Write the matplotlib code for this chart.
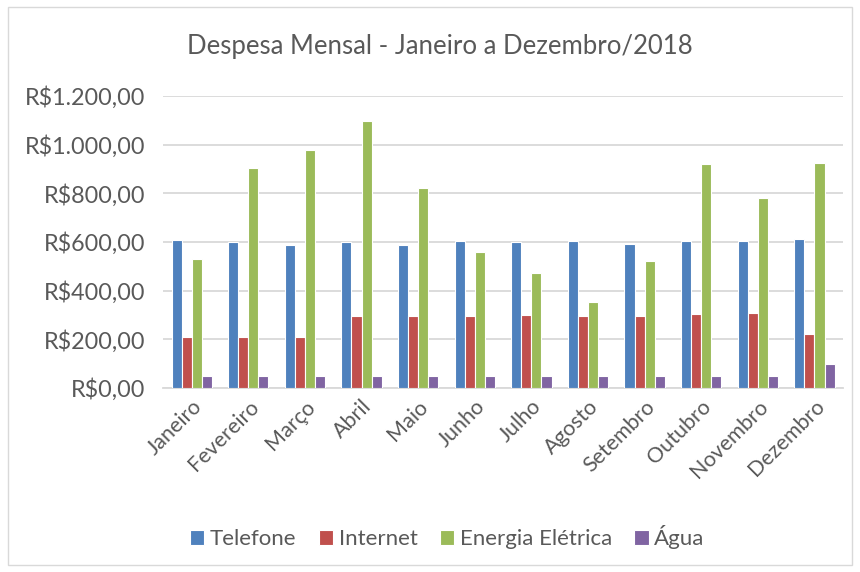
import matplotlib
matplotlib.use("Agg")
import matplotlib.pyplot as plt
import numpy as np

months = ["Janeiro", "Fevereiro", "Março", "Abril", "Maio", "Junho", "Julho",
          "Agosto", "Setembro", "Outubro", "Novembro", "Dezembro"]
telefone = [608, 598, 588, 598, 586, 604, 600, 604, 591, 606, 602, 612]
internet = [210, 210, 210, 294, 294, 294, 298, 294, 294, 302, 307, 221]
energia = [532, 902, 979, 1097, 822, 558, 474, 355, 520, 921, 781, 923]
agua = [50, 50, 50, 50, 50, 50, 50, 50, 50, 50, 50, 100]
series_names = ["Telefone", "Internet", "Energia Elétrica", "Água"]
colors = ["#4F81BD", "#C0504D", "#9BBB59", "#8064A2"]
yticks = [0, 200, 400, 600, 800, 1000, 1200]
ytick_labels = ["R\\$0,00", "R\\$200,00", "R\\$400,00", "R\\$600,00",
                "R\\$800,00", "R\\$1.000,00", "R\\$1.200,00"]

plt.rcParams['font.family'] = ['Lato', 'DejaVu Sans']
txt = "#595959"

fig = plt.figure(figsize=(8.6, 5.72), dpi=100)
# outer border
fig.patches.append(plt.Rectangle((0.009, 0.012), 0.982, 0.976, transform=fig.transFigure,
                                 fill=False, edgecolor="#d9d9d9", linewidth=1))
ax = fig.add_axes([0.19, 0.3217, 0.79, 0.5105])

x = np.arange(len(months))
step = 0.178
data = [telefone, internet, energia, agua]
for i, (vals, name, c) in enumerate(zip(data, series_names, colors)):
    ax.bar(x + (i - 1.5) * step, vals, width=step, color=c, edgecolor="white",
           linewidth=0.8, label=name, zorder=3)

ax.set_xlim(-0.5, len(months) - 0.5)
ax.set_ylim(0, 1200)
ax.set_yticks(yticks)
ax.set_yticklabels(ytick_labels, fontsize=16.8, color=txt)
ax.set_xticks(x)
ax.set_xticklabels(months, rotation=45, ha="right", rotation_mode="anchor",
                   fontsize=15.5, color=txt)
ax.tick_params(axis="both", length=0)
ax.tick_params(axis="y", pad=13)
ax.tick_params(axis="x", pad=6)
ax.grid(axis="y", color="#d9d9d9", linewidth=1.3, zorder=0)
for s in ["top", "right", "left"]:
    ax.spines[s].set_visible(False)
ax.spines["bottom"].set_color("#d9d9d9")
ax.spines["bottom"].set_linewidth(1.3)
ax.set_axisbelow(True)

fig.text(0.512, 0.918, "Despesa Mensal - Janeiro a Dezembro/2018", ha="center",
         va="center", fontsize=18.5, color=txt)

handles, labels = ax.get_legend_handles_labels()
fig.legend(handles, labels, loc="center", bbox_to_anchor=(0.52, 0.061), ncol=4,
           frameon=False, fontsize=16, labelcolor=txt, handlelength=0.65,
           handleheight=0.65, handletextpad=0.25, columnspacing=1.0)

fig.savefig("out.png", dpi=100)
